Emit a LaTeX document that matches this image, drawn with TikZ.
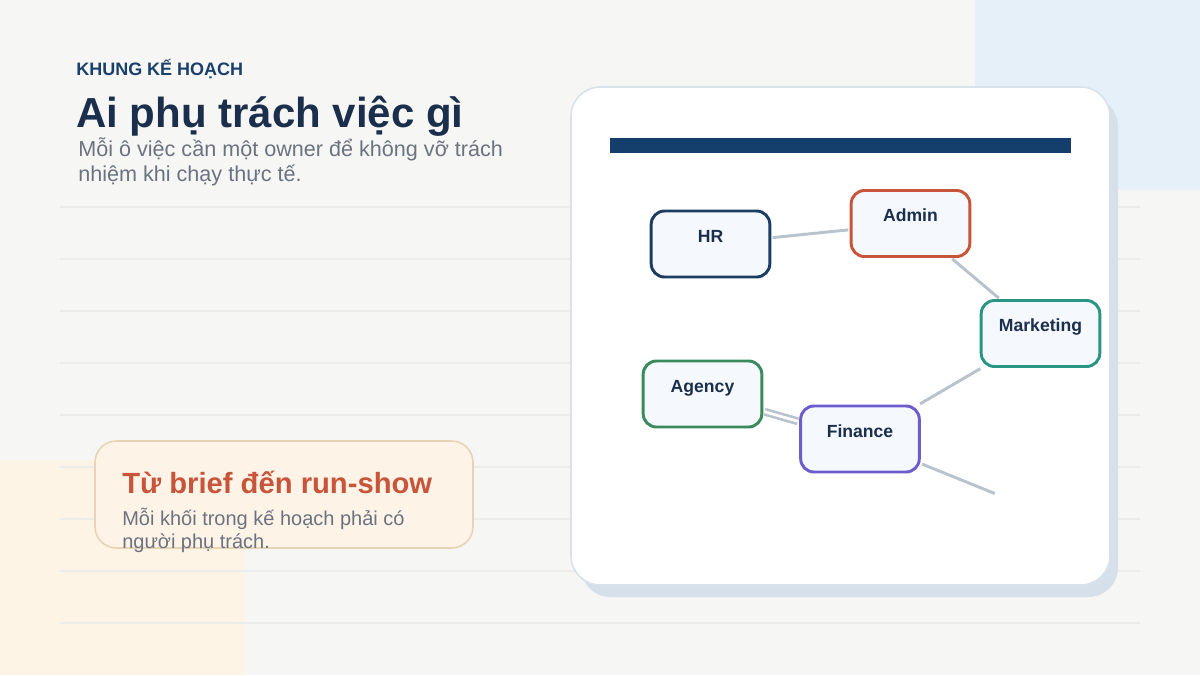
\documentclass[tikz,border=0pt]{standalone}
\usepackage{fontspec}
\setmainfont{Liberation Sans}
\definecolor{pagebg}{HTML}{F6F6F4}
\definecolor{skyblock}{HTML}{E6F0F9}
\definecolor{sandblock}{HTML}{FDF4E6}
\definecolor{ruleline}{HTML}{ECECEA}
\definecolor{ink}{HTML}{1B2F4D}
\definecolor{kicker}{HTML}{1A406B}
\definecolor{muted}{HTML}{6B7280}
\definecolor{accent}{HTML}{C8553A}
\definecolor{cardedge}{HTML}{D8E2EC}
\definecolor{cardshadow}{HTML}{D6E0EA}
\definecolor{barnavy}{HTML}{143E6C}
\definecolor{nodefill}{HTML}{F5F9FE}
\definecolor{linkgray}{HTML}{B9C3CD}
\definecolor{hrcol}{HTML}{1B3D63}
\definecolor{admincol}{HTML}{C8553A}
\definecolor{mktcol}{HTML}{2A9485}
\definecolor{agencycol}{HTML}{3A8A5C}
\definecolor{fincol}{HTML}{6C5CCC}
\definecolor{calloutfill}{HTML}{FDF3E6}
\definecolor{calloutedge}{HTML}{E8D4B4}

\begin{document}
\begin{tikzpicture}[x=0.75pt, y=-0.75pt,
    role/.style={draw, line width=2.2pt, rounded corners=10pt, fill=nodefill,
      minimum width=89pt, inner xsep=0pt, inner ysep=0pt,
      text height=23.25pt, text depth=26.25pt, text=ink,
      font=\fontsize{13.2}{15}\selectfont\bfseries},
    link/.style={draw=linkgray, line width=2.2pt, shorten <=1pt, shorten >=1pt},
    every node/.style={inner sep=0pt}]
  % 1. background
  \useasboundingbox (0,0) rectangle (1200,675);
  \fill[pagebg] (0,0) rectangle (1200,675);
  \fill[skyblock] (975,0) rectangle (1200,190);
  \fill[sandblock] (0,460) rectangle (245,675);
  \foreach \y in {207,259,...,623}
    \draw[ruleline, line width=0.8pt] (60,\y) -- (1140,\y);

  % 2. heading
  \node[anchor=base west, text=kicker, font=\fontsize{13.5}{16}\selectfont\bfseries] (kick) at (76,75) {KHUNG KẾ HOẠCH};
  \node[anchor=base west, text=ink, font=\fontsize{31.5}{36}\selectfont\bfseries] (title) at (76,127) {Ai phụ trách việc gì};
  \node[anchor=base west, text=muted, align=left, font=\fontsize{16.2}{18.75}\selectfont] (sub) at (78,181)
    {Mỗi ô việc cần một owner để không vỡ trách\\nhiệm khi chạy thực tế.};

  % 3. callout
  \draw[calloutedge, fill=calloutfill, line width=1.2pt, rounded corners=16pt] (95,441) rectangle (473,548);
  \node[anchor=base west, text=accent, font=\fontsize{21.9}{26}\selectfont\bfseries] (calltitle) at (122,493) {Từ brief đến run-show};
  \node[anchor=base west, text=muted, align=left, font=\fontsize{15}{17.25}\selectfont] (callbody) at (122,548)
    {Mỗi khối trong kế hoạch phải có\\người phụ trách.};

  % 4. card
  \fill[cardshadow, rounded corners=22pt] (581,97) rectangle (1118,597);
  \draw[cardedge, fill=white, line width=1.2pt, rounded corners=22pt] (571,87) rectangle (1110,585);
  \fill[barnavy] (610,138) rectangle (1071,153);

  % 5. roles
  \node[role, draw=hrcol] (hr) at (710.5,244) {HR};
  \node[role, draw=admincol] (admin) at (910.5,223.5) {Admin};
  \node[role, draw=mktcol] (marketing) at (1040.5,333.5) {Marketing};
  \node[role, draw=agencycol] (agency) at (702.5,394) {Agency};
  \node[role, draw=fincol] (finance) at (860,439) {Finance};
  \coordinate (loose) at (996,494);

  % 6. links
  \draw[link] (hr) -- (admin);
  \draw[link] (admin) -- (marketing);
  \draw[link] (marketing) -- (finance);
  \draw[link, line width=2pt, double=white, double distance=2pt] (agency) -- (finance);
  \draw[link] (finance) -- (loose);
\end{tikzpicture}
\end{document}
